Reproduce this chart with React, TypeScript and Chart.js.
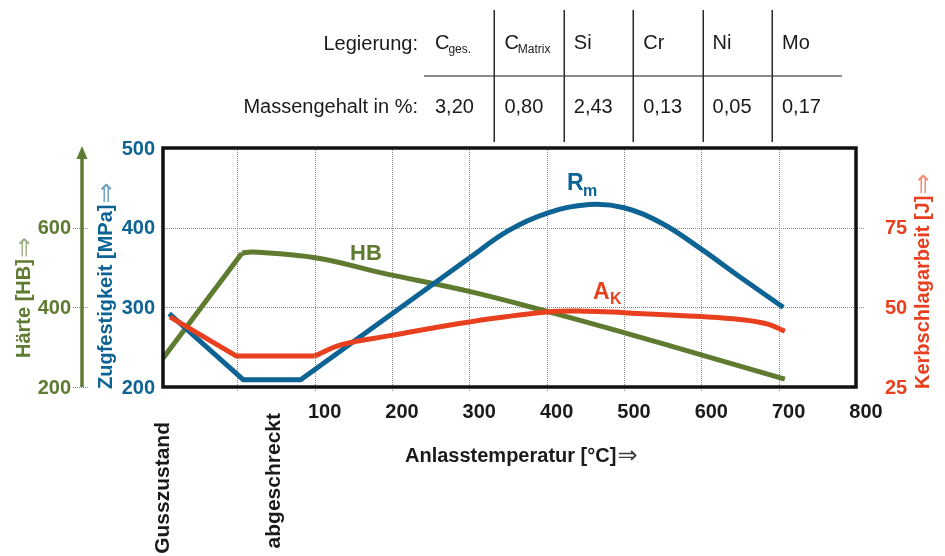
import React, { useEffect, useRef } from "react";
import { Chart, registerables } from "chart.js";

Chart.register(...registerables);

const FONT = "'Liberation Sans', Arial, sans-serif";
const ARROW_FONT = "'DejaVu Sans', sans-serif";
const BLUE = "#0d6494";
const GREEN = "#5e7b30";
const RED = "#e8401f";
const INK = "#1a1a1a";

// ---- Data (temperature in °C; Gusszustand / abgeschreckt left of 100 °C) ----
const RM_LINEAR_T = [-88, 8, 82, 300];
const RM_LINEAR_V = [292, 209, 209, 362];
const RM_CURVE_T = [300, 350, 400, 455, 500, 550, 600, 650, 706];
const RM_CURVE_V = [362, 396, 418, 429, 425, 405, 373, 338, 300];

const HB_LINEAR_T = [-96, 6];
const HB_LINEAR_V = [272, 536];
const HB_CURVE_T = [6, 20, 103, 188, 300, 404, 501, 601, 708];
const HB_CURVE_V = [536, 539, 524, 486, 440, 388, 336, 280, 220];

const AK_LINEAR_T = [-87, -1, 100];
const AK_LINEAR_V = [47, 34.7, 34.7];
const AK_CURVE_T = [100, 135, 200, 300, 400, 450, 500, 600, 650, 685, 708];
const AK_CURVE_V = [34.7, 38.3, 41.2, 45.4, 48.5, 48.8, 48.3, 47.1, 46.2, 44.8, 42.5];

// ---- Axes / ticks ----
const X_GRID = [0, 100, 200, 300, 400, 500, 600, 700];
const X_TICKS = [100, 200, 300, 400, 500, 600, 700, 800];
const MPA_TICKS = [200, 300, 400, 500];
const MPA_GRID = [300, 400];
const HB_TICKS = [200, 400, 600];
const AK_TICKS = [25, 50, 75];

// ---- Table ----
const TABLE_ELEMENTS = ["C", "C", "Si", "Cr", "Ni", "Mo"];
const TABLE_SUBS = ["ges.", "Matrix", "", "", "", ""];
const TABLE_VALUES = ["3,20", "0,80", "2,43", "0,13", "0,05", "0,17"];

const zip = (t: number[], v: number[]) => t.map((x, i) => ({ x, y: v[i] }));

function vText(ctx: CanvasRenderingContext2D, main: string, arrow: string, cx: number, anchorY: number, color: string, size: number, alignEnd = false) {
  ctx.save();
  ctx.translate(cx, anchorY);
  ctx.rotate(-Math.PI / 2);
  ctx.textBaseline = "middle";
  ctx.fillStyle = color;
  ctx.font = `bold ${size}px ${FONT}`;
  if (alignEnd) {
    ctx.textAlign = "right";
    ctx.fillText(main, 0, 0);
  } else {
    ctx.textAlign = "left";
    ctx.fillText(main, 0, 0);
    const w = ctx.measureText(main).width;
    if (arrow) {
      ctx.globalAlpha = 0.6;
      ctx.font = `${size + 5}px ${ARROW_FONT}`;
      ctx.fillText(arrow, w + 1, 1);
    }
  }
  ctx.restore();
}

function txt(ctx: CanvasRenderingContext2D, s: string, x: number, y: number, font: string, color: string, align: CanvasTextAlign = "left", baseline: CanvasTextBaseline = "alphabetic") {
  ctx.font = font;
  ctx.fillStyle = color;
  ctx.textAlign = align;
  ctx.textBaseline = baseline;
  ctx.fillText(s, x, y);
}

const decor = {
  id: "decor",
  beforeDatasetsDraw(chart: any) {
    const { ctx, chartArea: a, scales } = chart;
    ctx.save();
    ctx.strokeStyle = "#8a8a8a";
    ctx.lineWidth = 1;
    ctx.setLineDash([1, 1]);
    for (const v of X_GRID) {
      const px = Math.round(scales.x.getPixelForValue(v)) + 0.5;
      ctx.beginPath();
      ctx.moveTo(px, a.top);
      ctx.lineTo(px, a.bottom + 5);
      ctx.stroke();
    }
    for (const v of MPA_GRID) {
      const py = Math.round(scales.yMPa.getPixelForValue(v)) + 0.5;
      ctx.beginPath();
      ctx.moveTo(a.left, py);
      ctx.lineTo(a.right + 8, py);
      ctx.stroke();
    }
    for (const v of HB_TICKS) {
      const py = Math.round(scales.yHB.getPixelForValue(v)) + 0.5;
      ctx.beginPath();
      ctx.moveTo(73, py);
      ctx.lineTo(89, py);
      ctx.stroke();
    }
    ctx.restore();
  },
  afterDatasetsDraw(chart: any) {
    const { ctx, chartArea: a, scales } = chart;
    ctx.save();
    // plot frame
    ctx.setLineDash([]);
    ctx.strokeStyle = "#111";
    ctx.lineWidth = 3.5;
    ctx.strokeRect(a.left, a.top, a.right - a.left, a.bottom - a.top);

    // left MPa ticks
    for (const v of MPA_TICKS) {
      txt(ctx, String(v), 155, scales.yMPa.getPixelForValue(v) + 1, `bold 20px ${FONT}`, BLUE, "right", "middle");
    }
    // HB ticks
    for (const v of HB_TICKS) {
      txt(ctx, String(v), 71, scales.yHB.getPixelForValue(v) + 1, `bold 20px ${FONT}`, GREEN, "right", "middle");
    }
    // AK ticks
    for (const v of AK_TICKS) {
      txt(ctx, String(v), 896, scales.yAK.getPixelForValue(v) + 1, `bold 20px ${FONT}`, RED, "center", "middle");
    }
    // x ticks
    for (const v of X_TICKS) {
      txt(ctx, String(v), scales.x.getPixelForValue(v) + 10, 412, `bold 20px ${FONT}`, INK, "center", "middle");
    }

    // green arrow axis
    ctx.strokeStyle = GREEN;
    ctx.fillStyle = GREEN;
    ctx.lineWidth = 3.5;
    ctx.beginPath();
    ctx.moveTo(82, a.bottom);
    ctx.lineTo(82, 156);
    ctx.stroke();
    ctx.beginPath();
    ctx.moveTo(82, 146);
    ctx.lineTo(76.5, 159);
    ctx.lineTo(87.5, 159);
    ctx.closePath();
    ctx.fill();

    // axis titles
    vText(ctx, "Härte [HB]", "⇒", 24, 358, GREEN, 20);
    vText(ctx, "Zugfestigkeit [MPa]", "⇒", 106, 389, BLUE, 20);
    vText(ctx, "Kerbschlagarbeit [J]", "⇒", 923, 389, RED, 20);
    vText(ctx, "Gusszustand", "", 163, 422, INK, 21, true);
    vText(ctx, "abgeschreckt", "", 274, 413, INK, 21, true);

    // x title
    txt(ctx, "Anlasstemperatur [°C]", 405, 462, `bold 20px ${FONT}`, INK, "left", "alphabetic");
    ctx.font = `bold 20px ${FONT}`;
    const wx = ctx.measureText("Anlasstemperatur [°C]").width;
    ctx.globalAlpha = 0.85;
    txt(ctx, "⇒", 405 + wx + 1, 463, `24px ${ARROW_FONT}`, INK, "left", "alphabetic");
    ctx.globalAlpha = 1;

    // curve labels
    txt(ctx, "HB", 350, 260, `bold 22px ${FONT}`, GREEN);
    txt(ctx, "R", 567, 190, `bold 23px ${FONT}`, BLUE);
    txt(ctx, "m", 583, 196, `bold 16px ${FONT}`, BLUE);
    txt(ctx, "A", 593, 299, `bold 23px ${FONT}`, RED);
    txt(ctx, "K", 610, 304, `bold 16px ${FONT}`, RED);

    // composition table
    txt(ctx, "Legierung:", 418, 50, `20px ${FONT}`, INK, "right");
    txt(ctx, "Massengehalt in %:", 418, 113, `20px ${FONT}`, INK, "right");
    const x0 = 435;
    const cw = 69.4;
    for (let i = 0; i < TABLE_ELEMENTS.length; i++) {
      const tx = x0 + i * cw;
      txt(ctx, TABLE_ELEMENTS[i], tx, 49, `20px ${FONT}`, INK);
      if (TABLE_SUBS[i]) {
        ctx.font = `20px ${FONT}`;
        const w = ctx.measureText(TABLE_ELEMENTS[i]).width;
        txt(ctx, TABLE_SUBS[i], tx + w - 1, 53, `12px ${FONT}`, INK);
      }
      txt(ctx, TABLE_VALUES[i], tx, 113, `20px ${FONT}`, INK);
    }
    ctx.strokeStyle = "#8c8c8c";
    ctx.lineWidth = 2;
    ctx.beginPath();
    ctx.moveTo(424, 76);
    ctx.lineTo(842, 76);
    ctx.stroke();
    ctx.strokeStyle = "#2a2a2a";
    ctx.lineWidth = 1.5;
    for (let i = 1; i < TABLE_ELEMENTS.length; i++) {
      const lx = Math.round(x0 + i * cw - 10) + 0.25;
      ctx.beginPath();
      ctx.moveTo(lx, 10);
      ctx.lineTo(lx, 142);
      ctx.stroke();
    }
    ctx.restore();
  },
};

export default function App() {
  const ref = useRef<HTMLCanvasElement | null>(null);
  useEffect(() => {
    if (!ref.current) return;
    const line = (data: any[], color: string, axis: string, smooth: boolean, order: number) => ({
      data,
      borderColor: color,
      backgroundColor: color,
      borderWidth: 5,
      pointRadius: 0,
      fill: false,
      tension: smooth ? 0.4 : 0,
      borderCapStyle: "butt",
      borderJoinStyle: "round",
      yAxisID: axis,
      xAxisID: "x",
      clip: false,
      order,
    });
    const chart = new Chart(ref.current, {
      type: "line",
      data: {
        datasets: [
          line(zip(AK_LINEAR_T, AK_LINEAR_V), RED, "yAK", false, 1),
          line(zip(AK_CURVE_T, AK_CURVE_V), RED, "yAK", true, 1),
          line(zip(RM_LINEAR_T, RM_LINEAR_V), BLUE, "yMPa", false, 2),
          line(zip(RM_CURVE_T, RM_CURVE_V), BLUE, "yMPa", true, 2),
          line(zip(HB_LINEAR_T, HB_LINEAR_V), GREEN, "yHB", false, 3),
          line(zip(HB_CURVE_T, HB_CURVE_V), GREEN, "yHB", true, 3),
        ] as any,
      },
      options: {
        responsive: false,
        maintainAspectRatio: false,
        animation: false,
        devicePixelRatio: 1,
        events: [],
        layout: { padding: { left: 163, right: 89, top: 148, bottom: 169 } },
        plugins: { legend: { display: false }, tooltip: { enabled: false } },
        scales: {
          x: { type: "linear", min: -96, max: 800, display: false },
          yMPa: { type: "linear", min: 200, max: 500, display: false },
          yHB: { type: "linear", min: 200, max: 800, display: false },
          yAK: { type: "linear", min: 25, max: 100, display: false },
        },
      } as any,
      plugins: [decor],
    });
    return () => chart.destroy();
  }, []);
  return (
    <div style={{ position: "absolute", left: 0, top: 0, width: 945, height: 556, background: "#fff" }}>
      <canvas ref={ref} width={945} height={556} style={{ display: "block", width: 945, height: 556 }} />
    </div>
  );
}
